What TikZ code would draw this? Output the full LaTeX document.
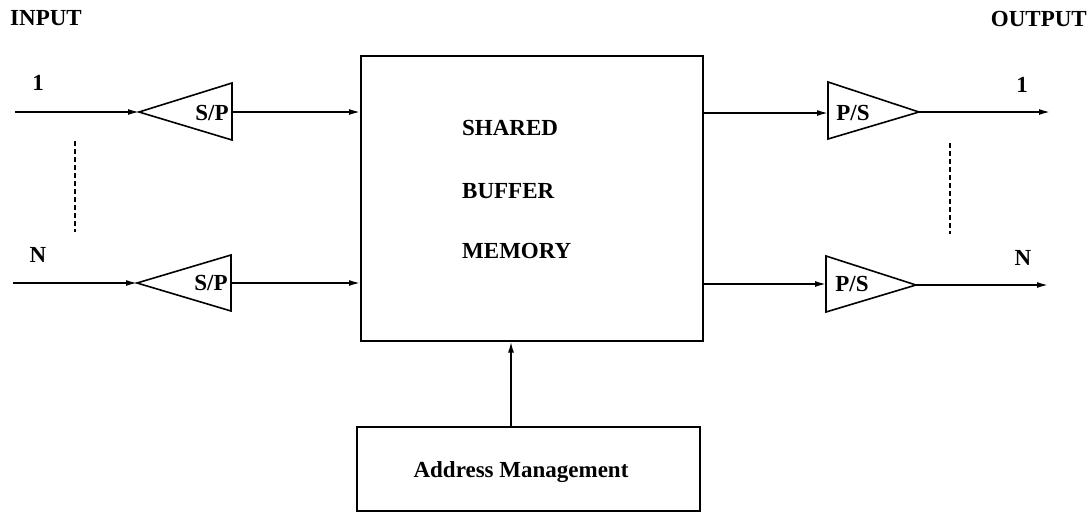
\documentclass[tikz,border=0pt]{standalone}
\usepackage{fontspec}
\setmainfont{Liberation Serif}
\usetikzlibrary{arrows.meta}
\begin{document}
\begin{tikzpicture}[x=1pt,y=-1pt,
  wire/.style={line width=1.6pt,-{Latex[length=11pt,width=6pt]}},
  amp/.style={line width=1.6pt,line join=miter},
  box/.style={draw,line width=1.6pt,inner sep=0pt,anchor=north west},
  lbl/.style={font=\fontsize{23}{27}\selectfont\bfseries,inner sep=0pt},
  dots/.style={line width=1.8pt,dash pattern=on 5pt off 3pt}]
\useasboundingbox (0,0) rectangle (1090,512);

% central memory and its address controller
\node[box,minimum width=342pt,minimum height=285pt] (buf) at (360,55) {};
\node[box,minimum width=343pt,minimum height=84pt] (addr) at (356,426) {};
\node[lbl,anchor=base west] (t1) at (462,135) {SHARED};
\node[lbl,anchor=base west] (t2) at (462,198) {BUFFER};
\node[lbl,anchor=base west] (t3) at (462,258) {MEMORY};
\node[lbl,anchor=base] (tam) at (521,477) {Address Management};
\coordinate (ctl) at (511,426);
\draw[wire] (ctl) -- (ctl |- buf.south);

% input side: serial-to-parallel converters
\coordinate (in1) at (15,112);
\coordinate (sp1tip) at (139,112);
\coordinate (sp1base) at (232,112);
\draw[amp] (sp1tip) -- ++(93,-29) -- ++(0,57) -- cycle;
\draw[wire] (in1) -- (sp1tip);
\draw[wire] (sp1base) -- (sp1base -| buf.west);

\coordinate (inN) at (13,283);
\coordinate (spNtip) at (137,283);
\coordinate (spNbase) at (231,283);
\draw[amp] (spNtip) -- ++(94,-28) -- ++(0,56) -- cycle;
\draw[wire] (inN) -- (spNtip);
\draw[wire] (spNbase) -- (spNbase -| buf.west);

\node[lbl,anchor=base] (sp1) at (212,120) {S/P};
\node[lbl,anchor=base] (spN) at (211,290) {S/P};

% output side: parallel-to-serial converters
\coordinate (ps1base) at (828,113);
\coordinate (ps1tip) at (919,112);
\coordinate (out1) at (1050,112);
\draw[amp] (ps1tip) -- (828,82) -- (828,139) -- cycle;
\draw[wire] (ps1base -| buf.east) -- (ps1base);
\draw[wire] (ps1tip) -- (out1);

\coordinate (psNbase) at (826,284);
\coordinate (psNtip) at (916,285);
\coordinate (outN) at (1048,285);
\draw[amp] (psNtip) -- (826,256) -- (826,312) -- cycle;
\draw[wire] (psNbase -| buf.east) -- (psNbase);
\draw[wire] (psNtip) -- (outN);

\node[lbl,anchor=base] (ps1) at (853,120) {P/S};
\node[lbl,anchor=base] (psN) at (852,291) {P/S};

% port labels and ellipses
\node[lbl,anchor=base west] (inlbl) at (10,25) {INPUT};
\node[lbl,anchor=base east] (outlbl) at (1087,26) {OUTPUT};
\node[lbl,anchor=base] (li1) at (38,90) {1};
\node[lbl,anchor=base] (liN) at (38,262) {N};
\node[lbl,anchor=base] (lo1) at (1022,92) {1};
\node[lbl,anchor=base] (loN) at (1023,265) {N};
\coordinate (dl1) at (75,141);
\coordinate (dl2) at (75,232);
\coordinate (dr1) at (950,143);
\coordinate (dr2) at (950,234);
\draw[dots] (dl1) -- (dl2);
\draw[dots] (dr1) -- (dr2);
\end{tikzpicture}
\end{document}
